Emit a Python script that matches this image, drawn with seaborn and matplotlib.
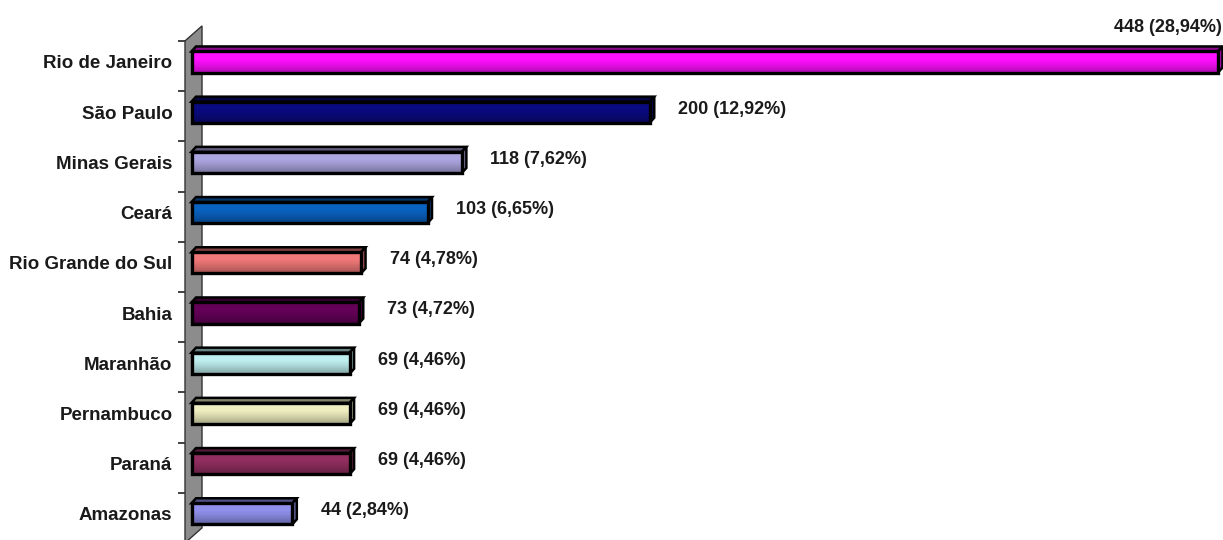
import numpy as np
import pandas as pd
import matplotlib
matplotlib.use("Agg")
import matplotlib.pyplot as plt
import matplotlib.colors as mcolors
from matplotlib.patches import Polygon
import seaborn as sns

# Data
states = ["Rio de Janeiro", "São Paulo", "Minas Gerais", "Ceará", "Rio Grande do Sul",
          "Bahia", "Maranhão", "Pernambuco", "Paraná", "Amazonas"]
counts = [448, 200, 118, 103, 74, 73, 69, 69, 69, 44]
percents = [28.94, 12.92, 7.62, 6.65, 4.78, 4.72, 4.46, 4.46, 4.46, 2.84]
colors = ["#FF10FF", "#0A0A80", "#ACA6E0", "#0A62C0", "#F07878",
          "#640058", "#BEEEEE", "#EEEEC0", "#922E60", "#9090EC"]

sns.set_theme(style="white")
plt.rcParams["font.family"] = ["Liberation Sans", "DejaVu Sans"]
plt.rcParams["font.weight"] = "bold"

W, H, DPI = 1223, 540, 100
fig = plt.figure(figsize=(W / DPI, H / DPI), dpi=DPI)
# axes box in pixels: left 185, right 1223, top 20, bottom 540
ax = fig.add_axes([185 / W, 0, (W - 185) / W, (H - 20) / H])

df = pd.DataFrame({"state": states, "count": counts})
sns.barplot(data=df, y="state", x="count", hue="state", palette=colors,
            saturation=1, orient="h", width=0.42, edgecolor="black", linewidth=2.4,
            legend=False, ax=ax, zorder=3)

px_x = 2.2913          # pixels per count unit
px_y = 50.2            # pixels per category step
x0_px = 191.5
ax.set_xlim((185 - x0_px) / px_x, (W - x0_px) / px_x)
ax.set_ylim((540 - 62) / px_y, (20 - 62) / px_y)

# 3D depth of each bar (pixels -> data units)
ddx = 4.5 / px_x
ddy = 5.0 / px_y

def darker(c, f):
    r, g, b = mcolors.to_rgb(c)
    return (r * f, g * f, b * f)

# front-face shading: bright upper half, darkening toward the bottom edge
ramp = np.clip((np.linspace(0, 1, 64) - 0.35) / 0.65, 0, 1) ** 1.3 * 0.32
grad = np.zeros((64, 2, 4))
grad[..., 3] = ramp[:, None]

for patch, col in zip(ax.patches, colors):
    x, y = patch.get_x(), patch.get_y()
    w, h = patch.get_width(), patch.get_height()
    ytop, ybot = y, y + h
    im = ax.imshow(grad, extent=(x, x + w, ybot, ytop), aspect="auto",
                   origin="upper", zorder=3.5, interpolation="bilinear")
    im.set_clip_path(patch)
    # top face
    top = Polygon([(x, ytop), (x + w, ytop), (x + w + ddx, ytop - ddy), (x + ddx, ytop - ddy)],
                  closed=True, facecolor=darker(col, 0.55), edgecolor="black",
                  linewidth=1.8, zorder=2.8)
    ax.add_patch(top)
    # side face
    side = Polygon([(x + w, ytop), (x + w, ybot), (x + w + ddx, ybot - ddy), (x + w + ddx, ytop - ddy)],
                   closed=True, facecolor=darker(col, 0.7), edgecolor="black",
                   linewidth=1.8, zorder=2.8)
    ax.add_patch(side)

# side wall
xl = ax.get_xlim()[0]
xb = (202 - x0_px) / px_x
back = 15 / px_y
wall = Polygon([(xl, -0.42), (xb, -0.42 - back), (xb, 9.58 - back), (xl, 9.58)],
               closed=True, facecolor="#8C8C8C", edgecolor="#333333",
               linewidth=1.0, zorder=1, clip_on=False)
ax.add_patch(wall)

# value labels
xmax = ax.get_xlim()[1]
for patch, n, p in zip(ax.patches, counts, percents):
    txt = f"{n} ({p:.2f}%)".replace(".", ",")
    xe = patch.get_x() + patch.get_width() + ddx
    yc = patch.get_y() + patch.get_height() / 2
    if xe + 130 / px_x > xmax:
        ax.annotate(txt, (xe, yc), xytext=(-1, 34), textcoords="offset pixels",
                    ha="right", va="center", fontsize=13, fontweight="bold",
                    color="#1a1a1a", annotation_clip=False)
    else:
        ax.annotate(txt, (xe, yc), xytext=(24, 3), textcoords="offset pixels",
                    ha="left", va="center", fontsize=13, fontweight="bold",
                    color="#1a1a1a")

# axes styling
for s in ax.spines.values():
    s.set_visible(False)
ax.set_xlabel("")
ax.set_ylabel("")
ax.set_xticks([])
ax.tick_params(axis="y", which="major", length=0, pad=9, labelsize=13.5,
               labelcolor="#1a1a1a")
for lab in ax.get_yticklabels():
    lab.set_fontweight("bold")
ax.set_yticks(np.arange(len(states)) - 0.42, minor=True)
ax.tick_params(axis="y", which="minor", left=True, length=5, width=1.2, color="#222222")

fig.savefig("out.png", dpi=DPI)
